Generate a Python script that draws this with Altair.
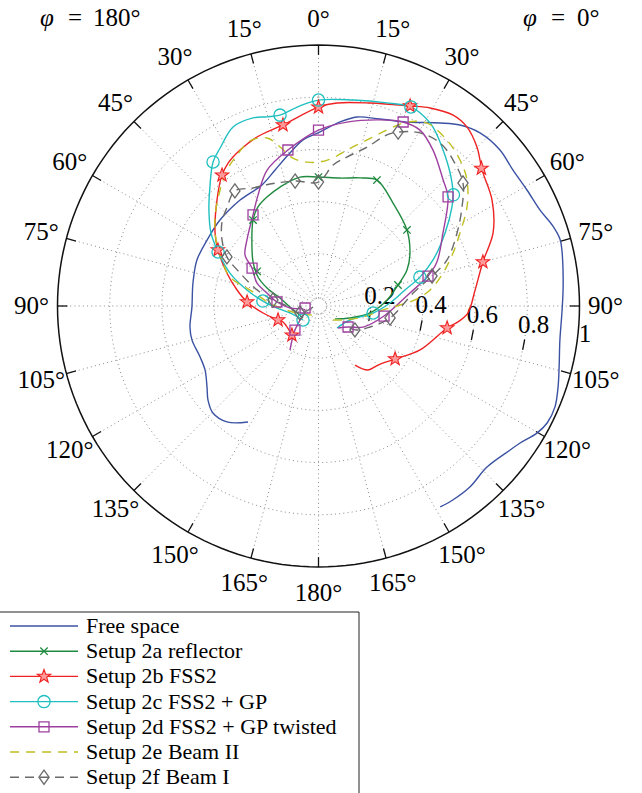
import altair as alt
import pandas as pd

# ---------------- data (theta: degrees clockwise from top, r: normalised) ----------------
SERIES = ["Free space", "Setup 2a reflector", "Setup 2b FSS2", "Setup 2c FSS2 + GP",
          "Setup 2d FSS2 + GP twisted", "Setup 2e Beam II", "Setup 2f Beam I"]
COLORS = ["#3b52a3", "#1f8a3f", "#ee2222", "#20bfc0", "#9e3fa0", "#bfbf1f", "#6a6a6a"]

free_theta = [211.3, 218.3, 224.6, 229.6, 234.0, 240.6, 246.7, 255.0, 260.7, 269.5, 280.4, 290.7,
              300.6, 311.1, 323.5, 335.0, 342.3, 348.6, 354.7, 0.5, 6.7, 11.5, 18.2, 25.7, 33.6,
              38.0, 43.0, 49.3, 55.0, 60.9, 66.6, 71.0, 74.5, 77.0, 81.6, 86.3, 91.6, 98.0, 104.2,
              108.7, 113.1, 117.1, 120.2, 124.2, 127.0, 133.7, 140.1, 145.3, 148.8]
free_r = [0.520, 0.566, 0.576, 0.556, 0.528, 0.499, 0.494, 0.502, 0.499, 0.485, 0.489, 0.498,
          0.496, 0.501, 0.505, 0.512, 0.547, 0.590, 0.639, 0.667, 0.710, 0.739, 0.754, 0.782, 0.842,
          0.880, 0.907, 0.917, 0.909, 0.914, 0.925, 0.948, 0.960, 0.957, 0.947, 0.939, 0.933, 0.934,
          0.951, 0.969, 0.985, 0.984, 0.968, 0.934, 0.918, 0.893, 0.904, 0.904, 0.900]

refl_theta = [232.3, 268.0, 281.7, 289.3, 295.6, 303.9, 312.5, 322.7, 328.6, 334.7, 342.1, 351.8,
              0.0, 9.5, 18.0, 24.9, 35.9, 49.3, 59.9, 67.9, 75.2, 85.0, 97.7, 110.9, 128.2]
refl_r = [0.075, 0.109, 0.151, 0.209, 0.257, 0.302, 0.346, 0.414, 0.445, 0.462, 0.479, 0.499,
          0.494, 0.497, 0.516, 0.532, 0.487, 0.447, 0.405, 0.366, 0.315, 0.264, 0.199, 0.129, 0.080]
refl_mk_theta = [0.0, 24.9, 49.3, 75.2, 322.7, 299.5]
refl_mk_r = [0.494, 0.532, 0.447, 0.315, 0.414, 0.270]

fss_theta = [222.4, 245.7, 250.9, 262.8, 273.2, 281.1, 289.8, 299.1, 305.2, 316.2, 323.6, 327.7,
             333.3, 340.0, 348.9, 0.0, 5.2, 14.2, 24.6, 29.4, 35.2, 39.7, 44.9, 50.3, 58.6, 67.3,
             75.0, 84.2, 92.7, 96.5, 99.7, 113.4, 124.7, 134.8, 142.3, 148.3]
fss_r = [0.151, 0.149, 0.164, 0.214, 0.274, 0.318, 0.373, 0.441, 0.485, 0.562, 0.623, 0.648,
         0.669, 0.689, 0.707, 0.762, 0.781, 0.802, 0.843, 0.871, 0.895, 0.891, 0.860, 0.815, 0.779,
         0.725, 0.652, 0.603, 0.573, 0.538, 0.500, 0.424, 0.357, 0.321, 0.310, 0.266]
fss_mk_theta = [0.0, 348.9, 323.6, 299.1, 273.2, 250.9, 222.4, 24.6, 49.8, 75.0, 99.7, 124.7]
fss_mk_r = [0.762, 0.707, 0.623, 0.441, 0.274, 0.164, 0.151, 0.843, 0.817, 0.652, 0.500, 0.357]

gp_theta = [227.9, 256.2, 267.2, 275.1, 282.6, 290.4, 298.3, 304.2, 311.2, 317.6, 323.8, 328.1,
            334.5, 340.8, 344.8, 348.6, 354.7, 0.0, 9.5, 18.6, 24.9, 27.7, 32.6, 38.6, 44.7, 50.0,
            53.4, 60.0, 68.1, 74.1, 79.5, 87.6, 97.3, 114.0, 139.9]
gp_r = [0.080, 0.112, 0.159, 0.214, 0.281, 0.362, 0.437, 0.498, 0.558, 0.617, 0.684, 0.713,
        0.760, 0.763, 0.751, 0.746, 0.770, 0.789, 0.800, 0.821, 0.841, 0.836, 0.814, 0.765, 0.717,
        0.673, 0.637, 0.560, 0.473, 0.404, 0.337, 0.274, 0.211, 0.132, 0.110]
gp_mk_theta = [0.0, 348.6, 323.8, 298.3, 275.1, 227.9, 24.9, 50.5, 74.1, 97.3]
gp_mk_r = [0.789, 0.746, 0.684, 0.437, 0.214, 0.080, 0.841, 0.670, 0.404, 0.211]

tw_theta = [212.9, 217.9, 224.4, 232.9, 253.5, 266.0, 275.5, 284.2, 290.5, 299.7, 304.8, 312.7,
            324.3, 331.4, 339.3, 348.9, 0.0, 8.8, 18.3, 24.7, 30.0, 36.3, 44.7, 49.9, 59.6, 69.6,
            74.7, 81.9, 98.7, 115.3, 125.4, 138.4]
tw_r = [0.201, 0.165, 0.129, 0.089, 0.054, 0.109, 0.160, 0.204, 0.252, 0.293, 0.343, 0.373,
        0.430, 0.484, 0.557, 0.609, 0.674, 0.713, 0.751, 0.776, 0.778, 0.741, 0.679, 0.649, 0.553,
        0.484, 0.435, 0.354, 0.254, 0.189, 0.139, 0.113]
tw_mk_theta = [0.0, 348.9, 324.3, 299.7, 275.5, 261.6, 224.4, 24.7, 49.9, 74.7, 98.7, 125.4]
tw_mk_r = [0.674, 0.609, 0.430, 0.293, 0.160, 0.052, 0.129, 0.776, 0.649, 0.435, 0.254, 0.139]

b2_theta = [215.8, 252.0, 271.3, 283.1, 288.1, 295.5, 302.8, 310.7, 319.7, 326.1, 331.6, 337.5,
            343.0, 346.4, 350.2, 355.4, 0.6, 5.6, 10.4, 16.3, 21.3, 25.7, 30.7, 37.7, 44.1, 49.7,
            56.3, 62.7, 68.5, 75.2, 81.8, 86.4, 89.3, 93.5, 103.9, 119.7, 134.0]
b2_r = [0.043, 0.087, 0.174, 0.269, 0.357, 0.410, 0.467, 0.523, 0.583, 0.628, 0.657, 0.685,
        0.673, 0.627, 0.575, 0.553, 0.552, 0.570, 0.608, 0.663, 0.724, 0.782, 0.815, 0.804, 0.779,
        0.746, 0.684, 0.610, 0.554, 0.493, 0.432, 0.370, 0.312, 0.248, 0.176, 0.108, 0.077]

b1_theta = [260.0, 249.3, 273.2, 277.5, 284.6, 292.8, 298.2, 304.4, 311.0, 317.3, 324.0, 331.0,
            338.3, 349.4, 0.0, 5.9, 10.8, 17.0, 21.8, 24.6, 30.4, 36.7, 42.6, 49.6, 55.4, 62.2,
            70.3, 75.2, 82.2, 99.5, 112.2, 123.3, 125.6]
b1_r = [0.021, 0.076, 0.136, 0.176, 0.243, 0.326, 0.398, 0.448, 0.490, 0.516, 0.545, 0.517,
        0.503, 0.487, 0.475, 0.543, 0.581, 0.637, 0.706, 0.733, 0.769, 0.779, 0.761, 0.727, 0.668,
        0.600, 0.523, 0.450, 0.366, 0.278, 0.213, 0.167, 0.125]
b1_mk_theta = [0.0, 349.4, 324.0, 298.2, 277.5, 249.3, 24.6, 49.6, 75.2, 99.5, 123.3]
b1_mk_r = [0.475, 0.487, 0.545, 0.398, 0.176, 0.076, 0.733, 0.727, 0.450, 0.278, 0.167]

RING_VALUES = [0.2, 0.4, 0.6, 0.8]
RADIAL_TICKS = [0.2, 0.4, 0.6, 0.8, 1.0]
RADIAL_LABELS = ["0.2", "0.4", "0.6", "0.8", "1"]
ANGLE_TICKS = list(range(0, 360, 15))
ANGLE_LABELS = [f"{a if a <= 180 else 360 - a}°" for a in ANGLE_TICKS]

# ---------------- layout / style ----------------
W, H = 642, 793
CX, CY, U = 318.5, 306.0, 261.0
XS = alt.Scale(domain=[-CX / U, (W - CX) / U], nice=False, zero=False)
YS = alt.Scale(domain=[(CY - H) / U, CY / U], nice=False, zero=False)
FONT = "Liberation Serif"
POLX = "datum.r * sin(datum.theta * PI / 180)"
POLY = "datum.r * cos(datum.theta * PI / 180)"
AX_ANG = 100.7
INNER = 0.03

STAR = ("M0,-1L0.235,-0.324L0.951,-0.309L0.38,0.124L0.588,0.809L0,0.4L-0.588,0.809"
        "L-0.38,0.124L-0.951,-0.309L-0.235,-0.324Z")
XMARK = "M-1,-1L1,1M-1,1L1,-1"
DIAM = "M0,-1L0.72,0L0,1L-0.72,0Z"

DASHES = [None, None, None, None, None, [9, 7], [9, 6]]
MARKS = [
    None,
    dict(shape=XMARK, size=55, filled=False, strokeWidth=1.3),
    dict(shape=STAR, size=200, filled=True, fill="#ff9a9a", stroke="#ee2222", strokeWidth=1.1),
    dict(shape="circle", size=150, filled=False, strokeWidth=1.3),
    dict(shape="square", size=100, filled=False, strokeWidth=1.3),
    None,
    dict(shape=DIAM, size=200, filled=False, strokeWidth=1.3),
]


def xy(fx="px", fy="py"):
    return dict(x=alt.X(f"{fx}:Q", scale=XS, axis=None), y=alt.Y(f"{fy}:Q", scale=YS, axis=None))


def xy2(fx1, fy1, fx2, fy2):
    d = xy(fx1, fy1)
    d["x2"] = alt.X2(f"{fx2}:Q")
    d["y2"] = alt.Y2(f"{fy2}:Q")
    return d


layers = []

# grid rings (dotted)
ring_rows = [{"ring": rv, "theta": t, "r": rv} for rv in [INNER] + RING_VALUES for t in range(0, 361, 3)]
layers.append(alt.Chart(pd.DataFrame(ring_rows)).transform_calculate(px=POLX, py=POLY)
              .mark_line(color="#8c8c8c", strokeWidth=1, strokeDash=[1, 3.2])
              .encode(**xy(), detail="ring:N", order="theta:Q"))

# spokes
spk = pd.DataFrame({"theta": ANGLE_TICKS})
layers.append(alt.Chart(spk).transform_calculate(
    x1=f"{INNER} * sin(datum.theta * PI / 180)", y1=f"{INNER} * cos(datum.theta * PI / 180)",
    x2="sin(datum.theta * PI / 180)", y2="cos(datum.theta * PI / 180)")
    .mark_rule(color="#8c8c8c", strokeWidth=1, strokeDash=[1, 3.2])
    .encode(**xy2("x1", "y1", "x2", "y2")))

# outer circle
outer = pd.DataFrame({"theta": list(range(0, 361, 2)), "r": 1.0})
layers.append(alt.Chart(outer).transform_calculate(px=POLX, py=POLY)
              .mark_line(color="#111111", strokeWidth=1.5)
              .encode(**xy(), order="theta:Q"))

# angular ticks
layers.append(alt.Chart(spk).transform_calculate(
    x1="0.962 * sin(datum.theta * PI / 180)", y1="0.962 * cos(datum.theta * PI / 180)",
    x2="sin(datum.theta * PI / 180)", y2="cos(datum.theta * PI / 180)")
    .mark_rule(color="#111111", strokeWidth=1.3)
    .encode(**xy2("x1", "y1", "x2", "y2")))

# angular labels
alab = pd.DataFrame({"theta": ANGLE_TICKS, "label": ANGLE_LABELS, "r": 1.10})
layers.append(alt.Chart(alab).transform_calculate(px=POLX, py=POLY)
              .mark_text(font=FONT, fontSize=25, color="black", align="center", baseline="middle")
              .encode(**xy(), text="label:N"))

# radial ticks and labels
rad = pd.DataFrame({"r": RADIAL_TICKS, "label": RADIAL_LABELS, "theta": AX_ANG})
rad_calc = dict(
    px=POLX, py=POLY,
    x1=f"{POLX} - 0.02 * cos(datum.theta * PI / 180)",
    y1=f"{POLY} + 0.02 * sin(datum.theta * PI / 180)",
    x2=f"{POLX} + 0.02 * cos(datum.theta * PI / 180)",
    y2=f"{POLY} - 0.02 * sin(datum.theta * PI / 180)")
layers.append(alt.Chart(rad).transform_filter("datum.r < 1").transform_calculate(**rad_calc)
              .mark_rule(color="#111111", strokeWidth=1.3)
              .encode(**xy2("x1", "y1", "x2", "y2")))
layers.append(alt.Chart(rad).transform_calculate(**rad_calc)
              .mark_text(font=FONT, fontSize=25, color="black", dx=10, dy=-20)
              .encode(**xy(), text="label:N"))

# series
curves = [(free_theta, free_r, None, None),
          (refl_theta, refl_r, refl_mk_theta, refl_mk_r),
          (fss_theta, fss_r, fss_mk_theta, fss_mk_r),
          (gp_theta, gp_r, gp_mk_theta, gp_mk_r),
          (tw_theta, tw_r, tw_mk_theta, tw_mk_r),
          (b2_theta, b2_r, None, None),
          (b1_theta, b1_r, b1_mk_theta, b1_mk_r)]


def line_kw(k):
    kw = dict(color=COLORS[k], strokeWidth=1.4)
    if DASHES[k]:
        kw["strokeDash"] = DASHES[k]
    return kw


def point_kw(k):
    kw = dict(MARKS[k])
    kw["opacity"] = 1
    if "stroke" not in kw:
        kw["color"] = COLORS[k]
    return kw


for k, (th, rr, mth, mr) in enumerate(curves):
    df = pd.DataFrame({"theta": th, "r": rr, "i": range(len(th))})
    layers.append(alt.Chart(df).transform_calculate(px=POLX, py=POLY)
                  .mark_line(interpolate="catmull-rom", **line_kw(k))
                  .encode(**xy(), order="i:Q"))
for k, (th, rr, mth, mr) in enumerate(curves):
    if mth is not None:
        mdf = pd.DataFrame({"theta": mth, "r": mr})
        layers.append(alt.Chart(mdf).transform_calculate(px=POLX, py=POLY)
                      .mark_point(**point_kw(k)).encode(**xy()))

# header texts
def htext(t, x, italic=False, align="center"):
    kw = dict(font=FONT, fontSize=25, color="black", align=align, baseline="middle")
    if italic:
        kw["fontStyle"] = "italic"
    return (alt.Chart(alt.Data(values=[{"t": t}])).mark_text(**kw)
            .encode(x=alt.value(x), y=alt.value(18), text="t:N"))


layers += [htext("φ", 47, True), htext("=", 75), htext("180°", 93, align="left"),
           htext("φ", 530, True), htext("=", 558), htext("0°", 577, align="left")]

# legend
layers.append(alt.Chart(alt.Data(values=[{}])).mark_rect(fill="white", stroke="#222222", strokeWidth=1)
              .encode(x=alt.value(-2), x2=alt.value(359), y=alt.value(612), y2=alt.value(805)))
LEG_Y0, LEG_DY = 626.0, 25.2
leg = pd.DataFrame({"series": SERIES, "i": list(range(len(SERIES)))})
leg_calc = dict(
    ly=f"({CY} - {LEG_Y0} - {LEG_DY} * datum.i) / {U}",
    lx1=f"({10} - {CX}) / {U}", lx2=f"({78} - {CX}) / {U}",
    lxm=f"({44} - {CX}) / {U}", lxt=f"({86} - {CX}) / {U}")
for k, name in enumerate(SERIES):
    base = alt.Chart(leg).transform_filter(alt.datum.series == name).transform_calculate(**leg_calc)
    d = xy("lx1", "ly")
    d["x2"] = alt.X2("lx2:Q")
    layers.append(base.mark_rule(**line_kw(k)).encode(**d))
    if MARKS[k] is not None:
        layers.append(base.mark_point(**point_kw(k)).encode(**xy("lxm", "ly")))
layers.append(alt.Chart(leg).transform_calculate(**leg_calc)
              .mark_text(font=FONT, fontSize=22, color="black", align="left", baseline="middle")
              .encode(**xy("lxt", "ly"), text="series:N"))

chart = (alt.layer(*layers)
         .properties(width=W, height=H, padding=0, autosize=alt.AutoSizeParams(type="none"),
                     background="white")
         .configure_view(stroke=None))

chart.save("out.html", embed_options={"renderer": "svg", "actions": False})
